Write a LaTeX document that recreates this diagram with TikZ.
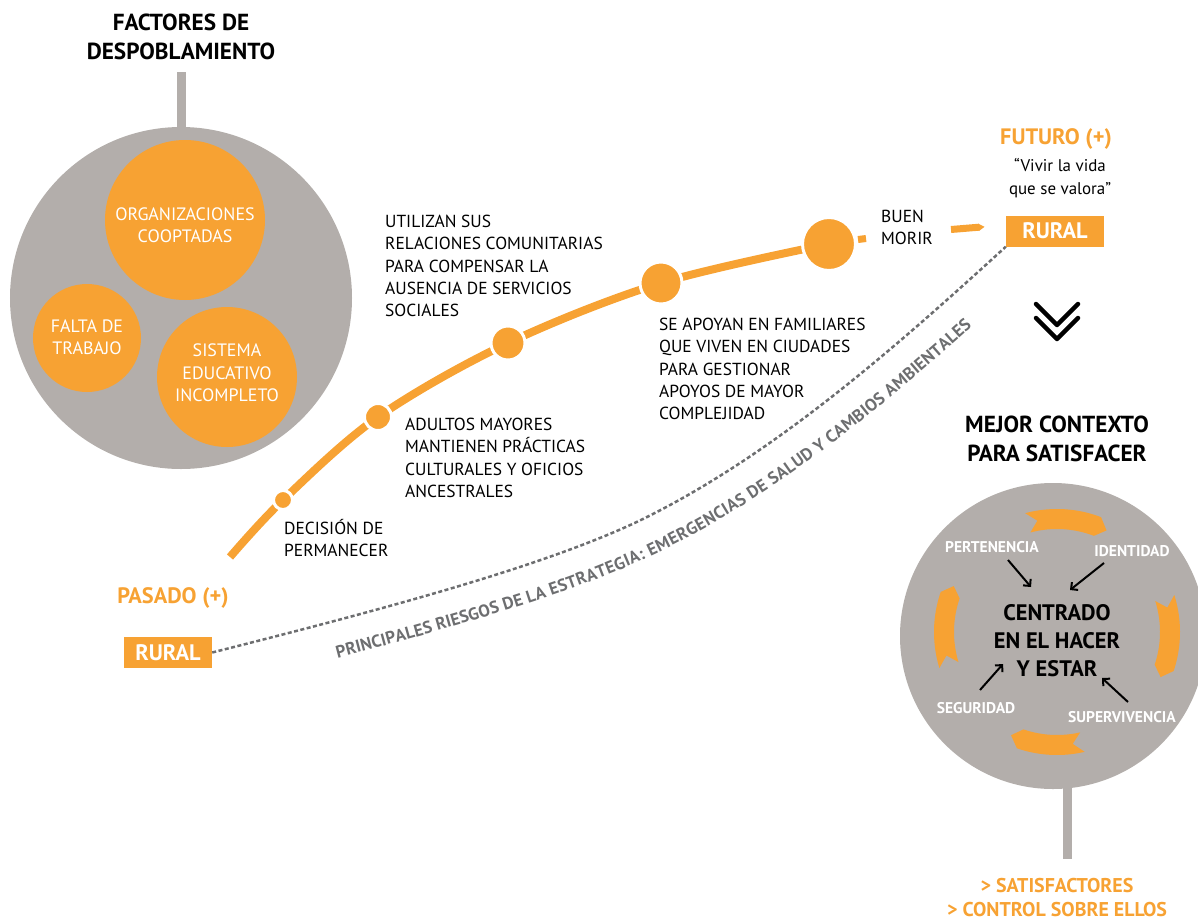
\documentclass[tikz,border=0pt]{standalone}
\usepackage{fontspec}
\setmainfont{PT Sans}
\usetikzlibrary{arrows.meta,decorations.text}
\definecolor{orng}{HTML}{F7A233}
\definecolor{gcirc}{HTML}{B3AEAB}
\definecolor{gline}{HTML}{6D6E70}
\tikzset{
  body/.style={font=\fontsize{17.5}{22.3}\selectfont, align=left, anchor=north west, inner sep=0pt, text=black},
  wtxt/.style={font=\fontsize{18}{22.5}\selectfont, align=center, text=white, inner sep=0pt},
  ttl/.style={font=\bfseries\fontsize{23.3}{28.5}\selectfont, align=center, inner sep=0pt},
  ttlo/.style={font=\bfseries\fontsize{22.4}{28}\selectfont, align=center, inner sep=0pt, text=orng},
  lbl/.style={font=\bfseries\fontsize{15.6}{17}\selectfont, text=white, inner sep=0pt},
  rural/.style={fill=orng, text=white, font=\bfseries\fontsize{22.5}{24}\selectfont, inner sep=0pt, minimum height=31bp},
  dot/.style={circle, fill=orng, draw=white, line width=3bp, inner sep=0pt},
  pc/.style={circle, fill=orng, inner sep=0pt},
  stem/.style={fill=gcirc},
  blk/.style={draw=black, line width=2bp, -{Straight Barb[length=5bp,width=10bp,line width=2bp]}}
}
\newcommand{\ribbonpiece}[2]{%
  \fill[orng] plot[domain=#1:#2,samples=24] (\x:123) -- ({#2+5}:113) -- plot[domain=#2:#1,samples=24] (\x:103) -- ({#1+5}:113) -- cycle;
}
\begin{document}
\begin{tikzpicture}[x=1bp,y=-1bp]
\useasboundingbox (0,0) rectangle (1198,921);

% ---------- left: factores ----------
\node[ttl, text=black] (fac) at (181,37) {FACTORES DE\\DESPOBLAMIENTO};
\fill[stem] (176.5,72) rectangle (185.5,132);
\node[circle, fill=gcirc, minimum size=342bp, inner sep=0pt] (bigL) at (181,298) {};
\node[pc, minimum size=160bp] (org) at (185,220) {};
\node[wtxt] at (185,225) {ORGANIZACIONES\\COOPTADAS};
\node[pc, minimum size=108bp] (fal) at (87,338) {};
\node[wtxt] at (87,337) {FALTA DE\\TRABAJO};
\node[pc, minimum size=140bp] (sis) at (227,377) {};
\node[wtxt] at (227,373) {SISTEMA\\EDUCATIVO\\INCOMPLETO};

% ---------- dotted risk line ----------
\node[rural, minimum width=88bp] (rurL) at (168,652.5) {RURAL};
\node[rural, minimum width=98bp] (rurR) at (1055,231) {RURAL};
\coordinate (rk) at (647,517);
\draw[gline, line width=2.5bp, dash pattern=on 4bp off 2.5bp] (rurL.east) .. controls (362,614.5) and (547,567) .. (rk) .. controls (777,452) and (896,347) .. (rurR.south west);
\path[decorate, decoration={text along path, raise=-37bp, text align={left indent=120bp},
  text color=gline,
  text={|\bfseries\fontsize{17.3}{17}\selectfont|PRINCIPALES RIESGOS DE LA ESTRATEGIA: EMERGENCIAS DE SALUD Y CAMBIOS AMBIENTALES}}]
  (212,652) .. controls (362,614.5) and (547,567) .. (647,517) .. controls (777,452) and (896,347) .. (1006,246);

% ---------- orange trajectory ----------
\draw[orng, line width=8bp] plot[smooth, tension=0.55] coordinates {(230,557) (283,500) (378,417) (508,343) (661,283) (829,244)};
\node[dot, minimum size=19bp] (d1) at (283,500) {};
\node[dot, minimum size=27bp] (d2) at (378,417) {};
\node[dot, minimum size=34bp] (d3) at (508,343) {};
\node[dot, minimum size=42bp] (d4) at (661,283) {};
\node[dot, minimum size=53bp] (d5) at (829,244) {};
\draw[orng, line width=7bp] (858,239.5) -- (866,238.5);
\draw[orng, line width=7bp] (951,229.5) -- (979,227.2);
\fill[orng] (978,223.6) -- (984.5,226.8) -- (979,231) -- cycle;

\node[body] (t1) at (284,519) {DECISIÓN DE\\PERMANECER};
\node[body] (t2) at (405,418) {ADULTOS MAYORES\\MANTIENEN PRÁCTICAS\\CULTURALES Y OFICIOS\\ANCESTRALES};
\node[body] (t3) at (385,215) {UTILIZAN SUS\\RELACIONES COMUNITARIAS\\PARA COMPENSAR LA\\AUSENCIA DE SERVICIOS\\SOCIALES};
\node[body] (t4) at (659,318) {SE APOYAN EN FAMILIARES\\QUE VIVEN EN CIUDADES\\PARA GESTIONAR\\APOYOS DE MAYOR\\COMPLEJIDAD};
\node[body] (t5) at (881,210) {BUEN\\MORIR};

\node[ttlo] (pas) at (173,598) {PASADO (+)};
\node[ttlo] (fut) at (1056,139) {FUTURO (+)};
\node[font=\fontsize{17}{23}\selectfont, align=center, inner sep=0pt] (viv) at (1060,178) {“Vivir la vida\\que se valora”};

% ---------- chevrons ----------
\draw[line width=4.5bp, line cap=round, line join=round] (1036,304) -- (1057,325) -- (1078,304);
\draw[line width=4.5bp, line cap=round, line join=round] (1036,318) -- (1057,339) -- (1078,318);

% ---------- right: mejor contexto ----------
\node[ttl, text=black] (mej) at (1057,439) {MEJOR CONTEXTO\\PARA SATISFACER};
\node[circle, fill=gcirc, minimum size=306bp, inner sep=0pt] (bigR) at (1053,636) {};
\fill[stem] (1062.5,780) rectangle (1071.5,859);
\begin{scope}[shift={(1057,632)}]
  \ribbonpiece{-105}{-69}
  \ribbonpiece{-17.5}{18.5}
  \ribbonpiece{77}{109}
  \ribbonpiece{163}{199}
\end{scope}
\node[font=\bfseries\fontsize{22.5}{28}\selectfont, align=center, inner sep=0pt] (cen) at (1057,641) {CENTRADO\\EN EL HACER\\Y ESTAR};
\node[lbl] (per) at (992,547) {PERTENENCIA};
\node[lbl] (ide) at (1132,551) {IDENTIDAD};
\node[lbl] (seg) at (976,708) {SEGURIDAD};
\node[lbl] (sup) at (1122,717) {SUPERVIVENCIA};
\coordinate (a1) at (1031,587);
\coordinate (a2) at (1070,590);
\coordinate (a3) at (1003,664);
\coordinate (a4) at (1102,678);
\draw[blk] (1008,560) -- (a1);
\draw[blk] (1104,563) -- (a2);
\draw[blk] (980,690) -- (a3);
\draw[blk] (1128,702) -- (a4);

\node[font=\bfseries\fontsize{20}{24}\selectfont, text=orng, align=center, inner sep=0pt] (sat) at (1057,897.5) {> SATISFACTORES\\> CONTROL SOBRE ELLOS};
\end{tikzpicture}
\end{document}
